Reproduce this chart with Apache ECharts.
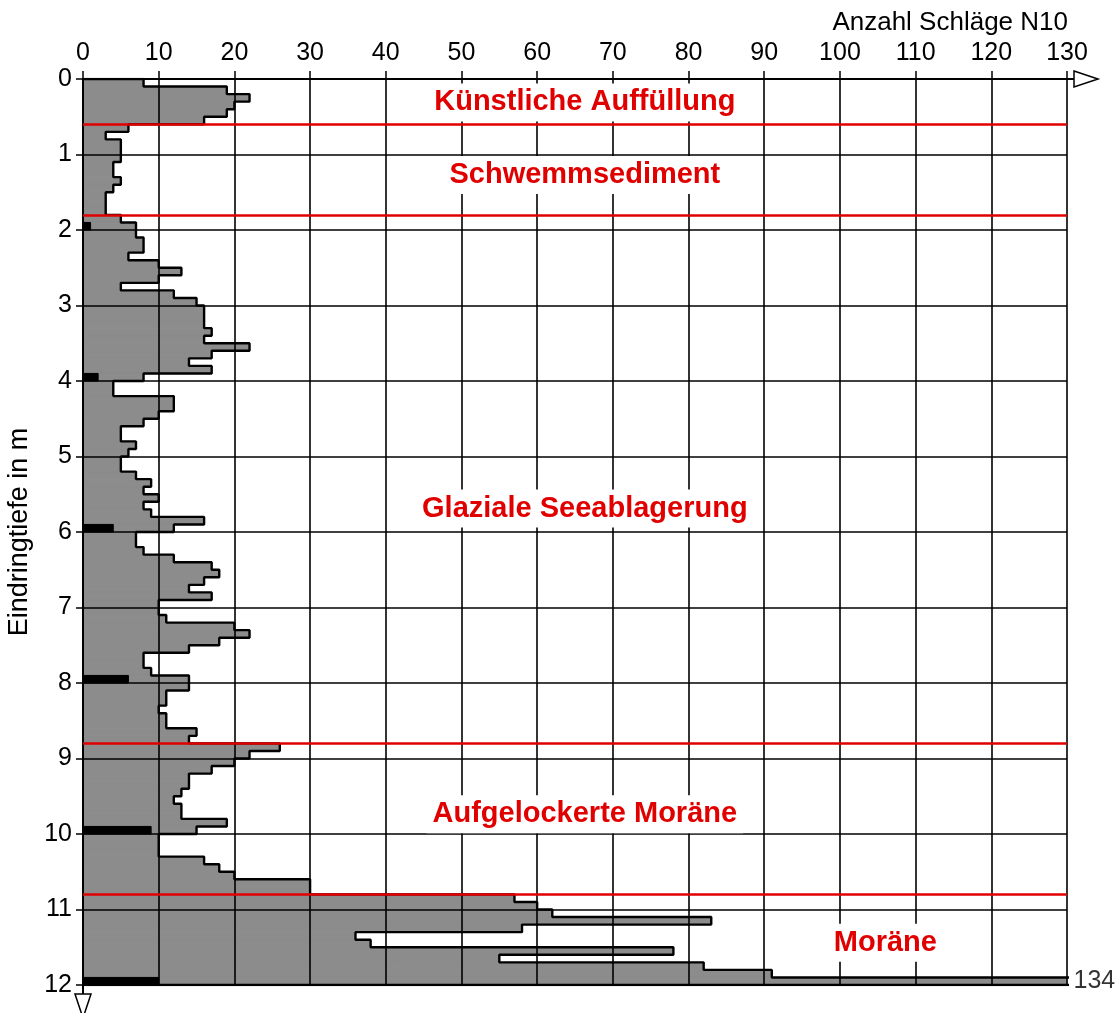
<!DOCTYPE html>
<html>
<head>
<meta charset="utf-8">
<script src="https://cdn.jsdelivr.net/npm/echarts@6/dist/echarts.min.js"></script>
<style>
  html, body { margin: 0; padding: 0; background: #fff; }
  #chart { width: 1120px; height: 1013px; }
</style>
</head>
<body>
<div id="chart"></div>
<script>
// Dynamic probing log: blows per 10 cm of penetration (N10),
// one value per 10 cm step, starting at 0.0 m depth.
const stepDepth = 0.1;
const n10 = [
  8, 19, 22, 20, 19, 16, 6, 3, 5, 5,       // 0–1 m
  5, 4, 4, 5, 4, 3, 3, 3, 5, 7,            // 1–2 m
  7, 8, 8, 6, 10, 13, 10, 5, 12, 15,       // 2–3 m
  16, 16, 16, 17, 16, 22, 17, 14, 17, 8,   // 3–4 m
  4, 4, 12, 12, 10, 8, 5, 5, 7, 6,         // 4–5 m
  5, 5, 7, 9, 8, 10, 8, 9, 16, 12,         // 5–6 m
  7, 7, 8, 12, 17, 18, 16, 14, 17, 10,     // 6–7 m
  10, 11, 20, 22, 18, 14, 8, 8, 9, 14,     // 7–8 m
  14, 11, 11, 10, 11, 11, 15, 14, 26, 22,  // 8–9 m
  20, 17, 14, 14, 13, 12, 13, 13, 19, 15,  // 9–10 m
  10, 10, 10, 16, 18, 20, 30, 30, 57, 60,  // 10–11 m
  62, 83, 58, 36, 38, 78, 55, 82, 91, 134  // 11–12 m
];

// Readings taken at the end of every second metre (black bars)
const readingDepths = [1.9, 3.9, 5.9, 7.9, 9.9, 11.9];
const readingValues = [1, 2, 4, 6, 9, 10];

// Layer boundaries (m) and layer names with their label anchors [N10, depth]
const layerBounds = [0.6, 1.8, 8.8, 10.8];
const layerNames = ['Künstliche Auffüllung', 'Schwemmsediment', 'Glaziale Seeablagerung', 'Aufgelockerte Moräne', 'Moräne'];
const layerLabelX = [66.3, 66.3, 66.3, 66.3, 106];
const layerLabelDepth = [0.31, 1.27, 5.69, 9.74, 11.44];

// Axis ranges
const xMax = 130, xStep = 10;
const depthMax = 12, depthStepAxis = 1;

const FONT = '"Liberation Sans", Arial, sans-serif';
const RED = '#e10000';
const GREY = '#8c8c8c';

const chart = echarts.init(document.getElementById('chart'), null, { renderer: 'canvas' });

function rectItem(color) {
  return function (params, api) {
    const v = api.value(0);
    const d = api.value(1);
    const p0 = api.coord([0, d]);
    const p1 = api.coord([v, d + stepDepth]);
    const cs = params.coordSys;
    const shape = echarts.graphic.clipRectByRect(
      { x: p0[0], y: p0[1], width: p1[0] - p0[0], height: p1[1] - p0[1] },
      { x: cs.x, y: cs.y, width: cs.width, height: cs.height }
    );
    return shape && {
      type: 'rect',
      shape: shape,
      style: { fill: color, stroke: color, lineWidth: 1 }
    };
  };
}

const fillData = n10.map((v, i) => [v, i * stepDepth]);
const readingData = readingValues.map((v, i) => [v, readingDepths[i]]);

// Stepped outline of the profile
const outline = [[0, 0]];
n10.forEach((v, i) => {
  const d = i * stepDepth;
  outline.push([v, d], [v, d + stepDepth]);
});
outline.push([0, depthMax]);

const lastIdx = n10.length - 1;

chart.setOption({
  animation: false,
  textStyle: { fontFamily: FONT },
  title: {
    text: 'Anzahl Schläge N10',
    right: 47,
    top: 5,
    textStyle: { fontFamily: FONT, fontSize: 26, fontWeight: 'normal', color: '#000' }
  },
  grid: { left: 83, top: 79, width: 984, height: 906, outerBoundsMode: 'none', containLabel: false },
  xAxis: {
    type: 'value',
    position: 'top',
    min: 0,
    max: xMax,
    interval: xStep,
    z: 2,
    axisLine: { show: true, lineStyle: { color: '#000', width: 2 } },
    axisTick: { show: true, length: 8, lineStyle: { color: '#000', width: 1.5 } },
    axisLabel: { fontFamily: FONT, fontSize: 25, color: '#000', margin: 13 },
    splitLine: { show: true, lineStyle: { color: '#000', width: 1.6 } }
  },
  yAxis: {
    type: 'value',
    inverse: true,
    min: 0,
    max: depthMax,
    interval: depthStepAxis,
    z: 2,
    name: 'Eindringtiefe in m',
    nameLocation: 'middle',
    nameRotate: 90,
    nameGap: 50,
    nameTextStyle: { fontFamily: FONT, fontSize: 27, color: '#000' },
    axisLine: { show: true, lineStyle: { color: '#000', width: 2 } },
    axisTick: { show: true, length: 7, lineStyle: { color: '#000', width: 1.5 } },
    axisLabel: { fontFamily: FONT, fontSize: 25, color: '#000', margin: 11 },
    splitLine: { show: true, lineStyle: { color: '#000', width: 1.6 } }
  },
  series: [
    {
      name: 'N10',
      type: 'custom',
      z: 1,
      renderItem: rectItem(GREY),
      encode: { x: 0, y: 1 },
      data: fillData
    },
    {
      name: 'N10 outline',
      type: 'line',
      z: 3,
      data: outline,
      showSymbol: false,
      symbol: 'none',
      clip: true,
      lineStyle: { color: '#000', width: 2.4 },
      markLine: {
        silent: true,
        symbol: ['none', 'none'],
        label: { show: false },
        lineStyle: { color: RED, width: 2.5, type: 'solid', opacity: 1 },
        emphasis: { disabled: true },
        data: layerBounds.map(d => ({ yAxis: d }))
      }
    },
    {
      name: 'readings',
      type: 'custom',
      z: 4,
      renderItem: rectItem('#000'),
      encode: { x: 0, y: 1 },
      data: readingData
    },
    {
      name: 'layers',
      type: 'scatter',
      z: 10,
      symbolSize: 1,
      itemStyle: { color: '#fff', opacity: 1 },
      label: {
        show: true,
        position: 'inside',
        formatter: p => p.name,
        fontFamily: FONT,
        fontSize: 29,
        fontWeight: 'bold',
        color: RED,
        textBorderWidth: 0,
        backgroundColor: '#fff',
        padding: [5, 6, 4, 6]
      },
      data: layerNames.map((n, i) => ({ name: n, value: [layerLabelX[i], layerLabelDepth[i]] }))
    },
    {
      name: 'overflow',
      type: 'scatter',
      z: 10,
      symbolSize: 1,
      itemStyle: { color: 'rgba(0,0,0,0)' },
      label: {
        show: true,
        position: 'right',
        distance: 6,
        formatter: () => String(n10[lastIdx]),
        fontFamily: FONT,
        fontSize: 25,
        color: '#000'
      },
      data: [[xMax, lastIdx * stepDepth + stepDepth / 2]]
    }
  ]
});

// Open arrow heads at the ends of both axes
const pEnd = chart.convertToPixel({ gridIndex: 0 }, [xMax, 0]);
const pBottom = chart.convertToPixel({ gridIndex: 0 }, [0, depthMax]);
chart.setOption({
  graphic: [
    { type: 'line', z: 20, shape: { x1: pEnd[0], y1: pEnd[1], x2: pEnd[0] + 7, y2: pEnd[1] },
      style: { stroke: '#000', lineWidth: 2 } },
    { type: 'polygon', z: 20,
      shape: { points: [[pEnd[0] + 7, pEnd[1] - 8], [pEnd[0] + 31, pEnd[1]], [pEnd[0] + 7, pEnd[1] + 8]] },
      style: { fill: '#fff', stroke: '#000', lineWidth: 1.5 } },
    { type: 'line', z: 20, shape: { x1: pBottom[0], y1: pBottom[1], x2: pBottom[0], y2: pBottom[1] + 9 },
      style: { stroke: '#000', lineWidth: 2 } },
    { type: 'polygon', z: 20,
      shape: { points: [[pBottom[0] - 8, pBottom[1] + 9], [pBottom[0] + 8, pBottom[1] + 9], [pBottom[0], pBottom[1] + 33]] },
      style: { fill: '#fff', stroke: '#000', lineWidth: 1.5 } }
  ]
});
</script>
</body>
</html>
